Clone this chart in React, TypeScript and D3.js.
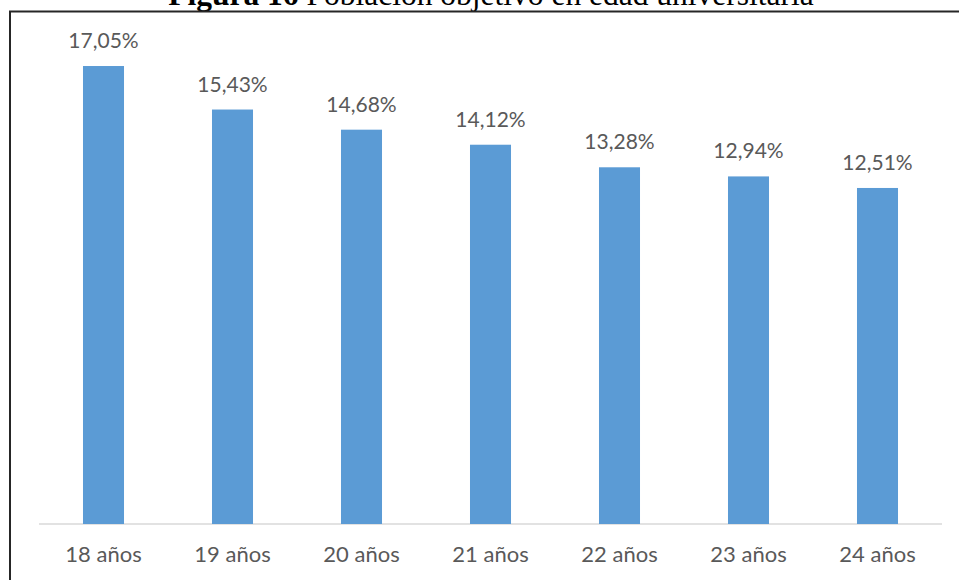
import React from "react";
import * as d3 from "d3";

const categories = ["18 años", "19 años", "20 años", "21 años", "22 años", "23 años", "24 años"];
const values = [17.05, 15.43, 14.68, 14.12, 13.28, 12.94, 12.51];
const valueLabels = ["17,05%", "15,43%", "14,68%", "14,12%", "13,28%", "12,94%", "12,51%"];
const yDomain = [0, 18];

const W = 959;
const H = 580;

export default function App() {
  const x = d3
    .scaleBand<string>()
    .domain(categories)
    .range([39, 942])
    .paddingInner(0.682)
    .paddingOuter(0.341);
  const y = d3.scaleLinear().domain(yDomain).range([524, 40.5]);
  const font = "Lato, 'Open Sans', sans-serif";

  return (
    <svg
      width={W}
      height={H}
      style={{ position: "absolute", left: 0, top: 0, background: "#fff" }}
    >
      <rect x={0} y={0} width={W} height={H} fill="#fff" />
      <text
        x={491}
        y={5}
        textAnchor="middle"
        fontFamily="'Liberation Serif', 'Times New Roman', serif"
        fontSize={31.5}
        fill="#000"
      >
        <tspan fontWeight="bold">Figura 16</tspan>
        <tspan> Población objetivo en edad universitaria</tspan>
      </text>
      <rect x={10} y={11.5} width={W + 10} height={H + 10} fill="none" stroke="#262626" strokeWidth={2} />
      <line x1={39} x2={942} y1={y(0)} y2={y(0)} stroke="#D9D9D9" strokeWidth={1.5} />
      {categories.map((c, i) => (
        <g key={c}>
          <rect
            x={x(c)}
            y={y(values[i])}
            width={x.bandwidth()}
            height={y(0) - y(values[i])}
            fill="#5B9BD5"
          />
          <text
            x={(x(c) as number) + x.bandwidth() / 2}
            y={y(values[i]) - 18}
            textAnchor="middle"
            fontFamily={font}
            fontSize={21}
            fill="#595959"
          >
            {valueLabels[i]}
          </text>
          <text
            x={(x(c) as number) + x.bandwidth() / 2}
            y={562}
            textAnchor="middle"
            fontFamily={font}
            fontSize={22}
            fill="#595959"
          >
            {c}
          </text>
        </g>
      ))}
    </svg>
  );
}
